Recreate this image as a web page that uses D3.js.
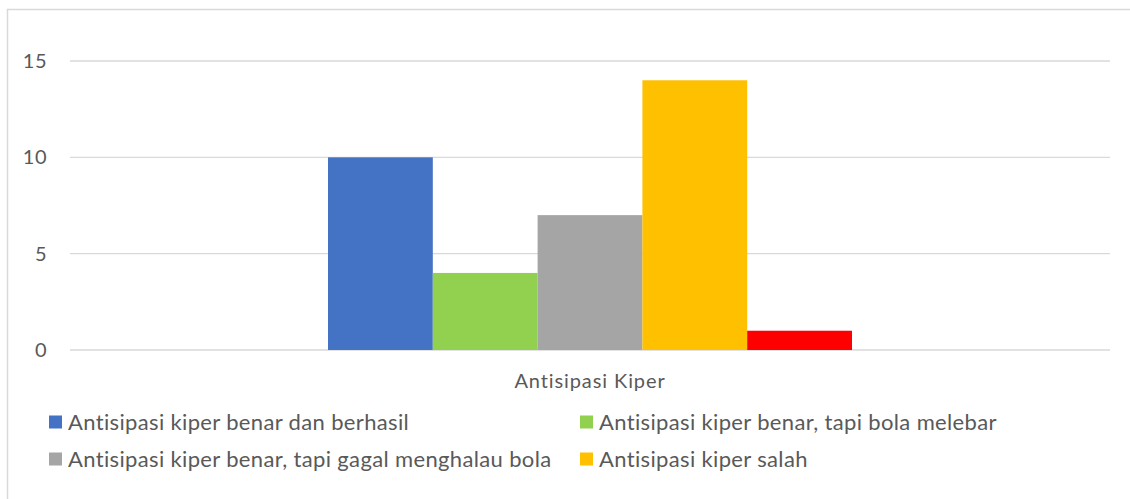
<!DOCTYPE html>
<html>
<head>
<meta charset="utf-8">
<script src="https://cdn.jsdelivr.net/npm/d3@7"></script>
<style>
  body { margin: 0; background: #fff; }
  svg { display: block; font-family: Lato, "Open Sans", sans-serif; }
</style>
</head>
<body>
<svg id="chart" width="1130" height="499"></svg>
<script>
// data
const categories = ["Antisipasi Kiper"];
const seriesNames = [
  "Antisipasi kiper benar dan berhasil",
  "Antisipasi kiper benar, tapi bola melebar",
  "Antisipasi kiper benar, tapi gagal menghalau bola",
  "Antisipasi kiper salah",
  "Lainnya"
];
const seriesValues = [10, 4, 7, 14, 1];
const seriesColors = ["#4472C4", "#92D050", "#A5A5A5", "#FFC000", "#FF0000"];
const yTicks = [0, 5, 10, 15];
const legendCount = 4; // only four entries are visible in the legend

const svg = d3.select("#chart");
const textColor = "#595959";
const gridColor = "#D9D9D9";

// chart frame
svg.append("rect")
  .attr("x", 7.5).attr("y", 9.5)
  .attr("width", 1140).attr("height", 500)
  .attr("fill", "none")
  .attr("stroke", gridColor)
  .attr("stroke-width", 1.5);

const plot = { left: 70, right: 1110, top: 61, bottom: 350 };

const y = d3.scaleLinear()
  .domain([0, 15])
  .range([plot.bottom, plot.top]);

const x0 = d3.scaleBand()
  .domain(categories)
  .range([plot.left, plot.right])
  .paddingInner(0)
  .paddingOuter(0.4924);

const x1 = d3.scaleBand()
  .domain(d3.range(seriesValues.length))
  .range([0, x0.bandwidth()]);

// gridlines
svg.append("g")
  .selectAll("line")
  .data(yTicks)
  .enter()
  .append("line")
  .attr("x1", plot.left).attr("x2", plot.right)
  .attr("y1", d => y(d)).attr("y2", d => y(d))
  .attr("stroke", gridColor)
  .attr("stroke-width", 1.3);

// y axis labels
const yAxis = svg.append("g")
  .attr("transform", `translate(${plot.left - 23},0)`)
  .call(d3.axisLeft(y).tickValues(yTicks).tickSize(0).tickPadding(0));
yAxis.select(".domain").remove();
yAxis.selectAll("text")
  .attr("fill", textColor)
  .style("font-size", "20px")
  .style("letter-spacing", "0.5px")
  .style("font-family", "Lato, sans-serif");

// bars
const group = svg.append("g")
  .attr("transform", `translate(${x0(categories[0])},0)`);

group.selectAll("rect")
  .data(seriesValues)
  .enter()
  .append("rect")
  .attr("x", (d, i) => x1(i))
  .attr("y", d => y(d))
  .attr("width", x1.bandwidth())
  .attr("height", d => y(0) - y(d))
  .attr("fill", (d, i) => seriesColors[i]);

// category label
const xAxis = svg.append("g")
  .attr("transform", `translate(0,${plot.bottom})`)
  .call(d3.axisBottom(x0).tickSize(0).tickPadding(24));
xAxis.select(".domain").remove();
xAxis.selectAll("text")
  .attr("fill", textColor)
  .style("font-size", "20px")
  .style("letter-spacing", "0.9px")
  .style("font-family", "Lato, sans-serif");

// legend, two columns
const legendX = [49, 580];
const legendY = [422, 459];

const legend = svg.append("g")
  .selectAll("g")
  .data(seriesNames.slice(0, legendCount))
  .enter()
  .append("g")
  .attr("transform", (d, i) => `translate(${legendX[i % 2]},${legendY[Math.floor(i / 2)]})`);

legend.append("rect")
  .attr("x", 0).attr("y", -6.5)
  .attr("width", 13).attr("height", 13)
  .attr("fill", (d, i) => seriesColors[i]);

legend.append("text")
  .attr("x", 19)
  .attr("y", 7.5)
  .attr("fill", textColor)
  .style("font-size", "22px")
  .style("letter-spacing", "0.35px")
  .text(d => d);
</script>
</body>
</html>
